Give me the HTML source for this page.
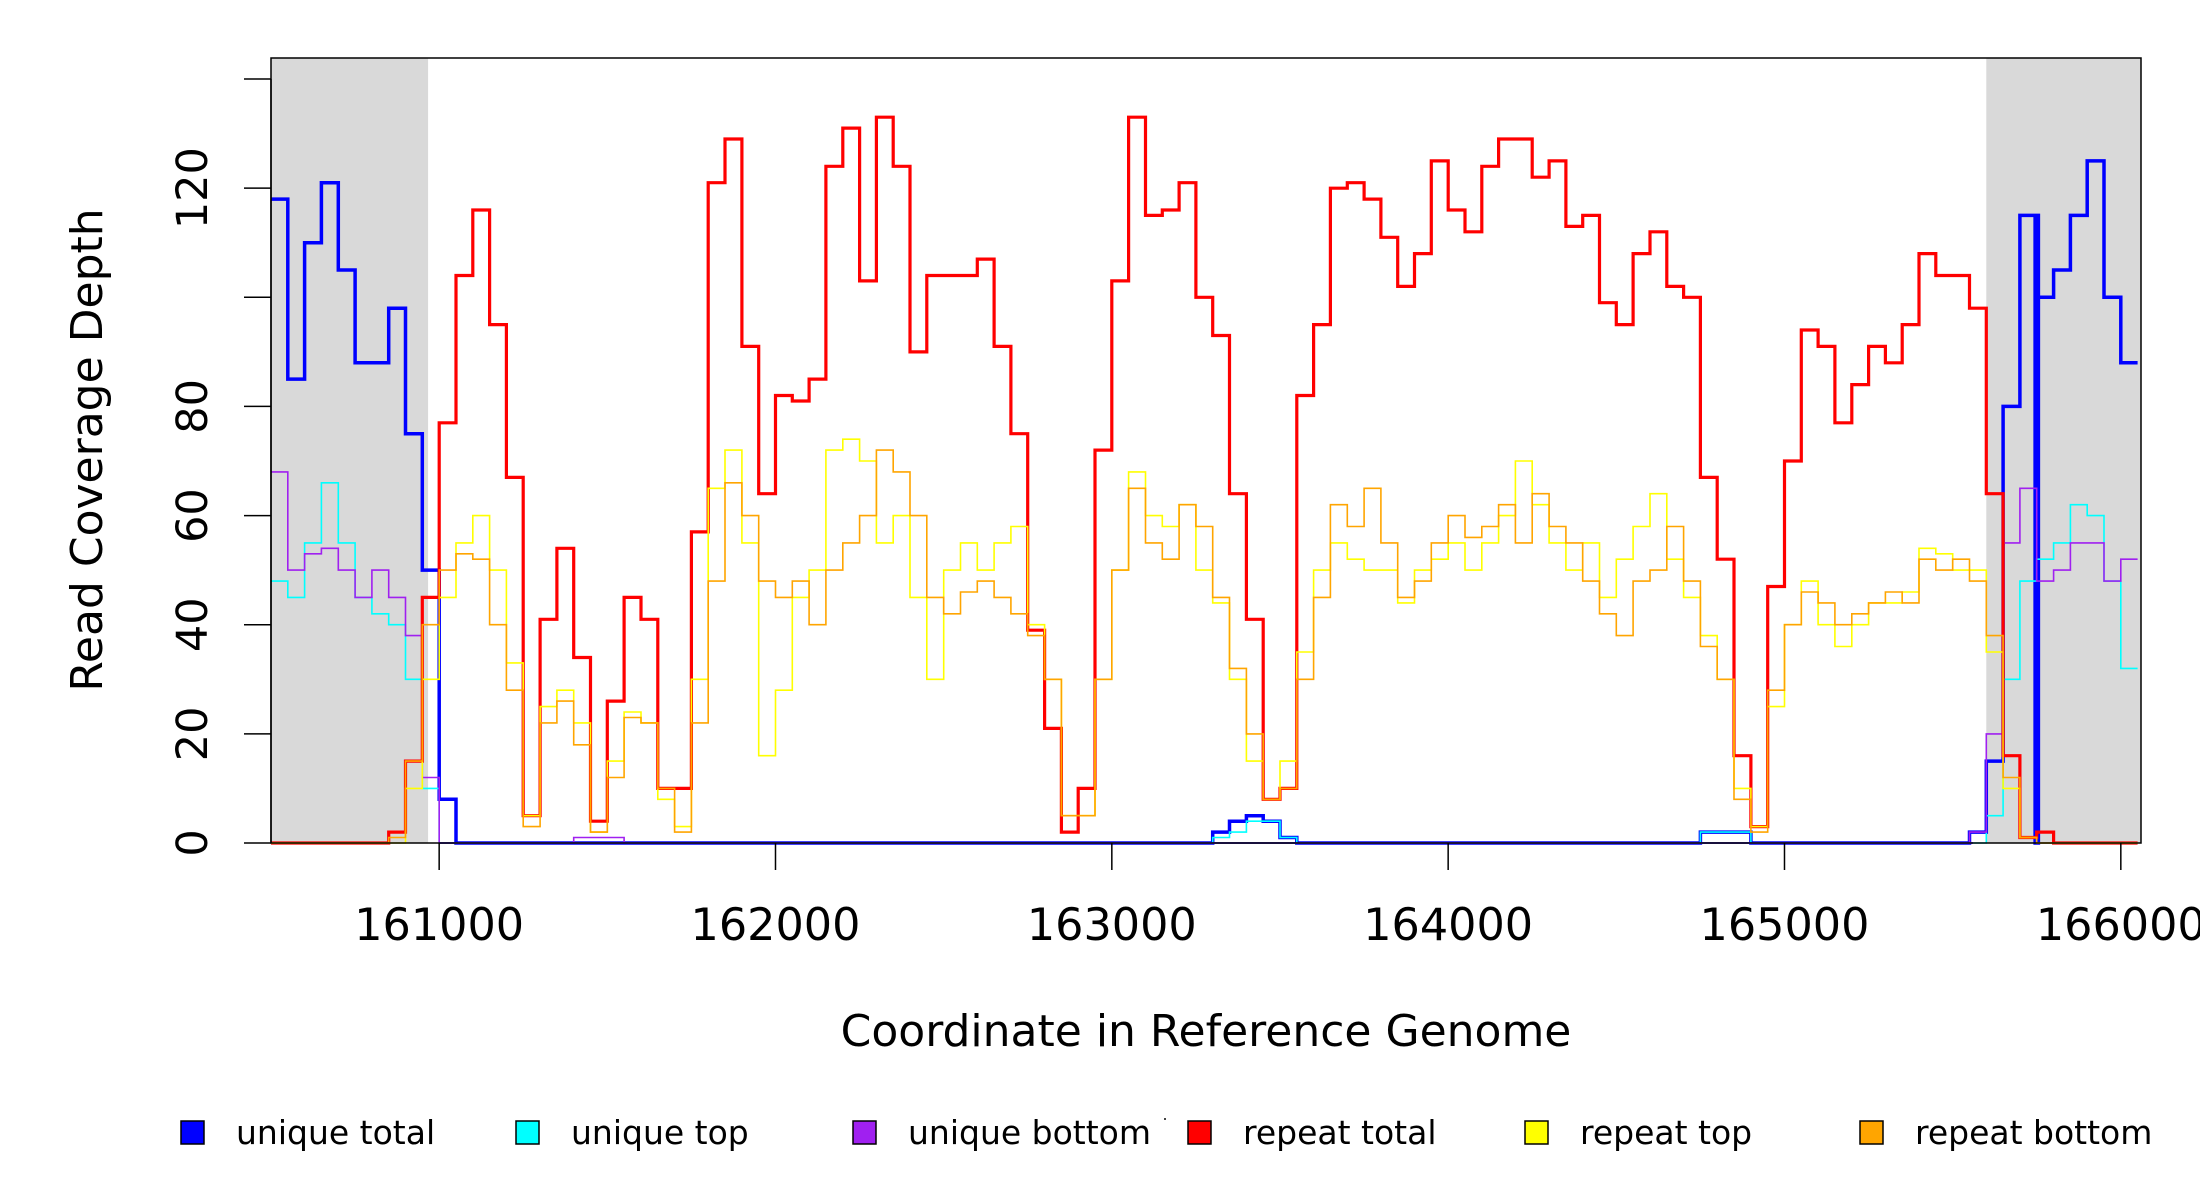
<!DOCTYPE html>
<html><head><meta charset="utf-8"><style>
html,body{margin:0;padding:0;background:#fff;}
svg{display:block;font-family:"DejaVu Sans","Liberation Sans",sans-serif;}
</style></head><body>
<svg id="chart" width="2200" height="1200" viewBox="0 0 2200 1200" xmlns="http://www.w3.org/2000/svg">
<g id="shade"></g>
<g id="series"></g>
<rect x="271" y="58" width="1870" height="785" fill="none" stroke="#000" stroke-width="1.5"/>
<g id="yaxis"></g>
<g id="xaxis"></g>
<text transform="translate(102,450) rotate(-90)" text-anchor="middle" font-size="44">Read Coverage Depth</text>
<text x="1206" y="1046" text-anchor="middle" font-size="44">Coordinate in Reference Genome</text>
<g id="legend"></g>
<rect x="1164" y="1118" width="2" height="2" fill="#444"/>
</svg>
<script>
const binStart = 160500;
const binWidth = 50;
const xTicks = [161000,162000,163000,164000,165000,166000];
const yTicks = [0,20,40,60,80,100,120,140];
const yTickLabels = ["0","20","40","60","80","","120",""];
const shadedRanges = [[160500,160967],[165600,166060]];
const seriesNames = ["unique total","unique top","unique bottom","repeat total","repeat top","repeat bottom"];
const seriesColors = ["#0000ff","#00ffff","#a020f0","#ff0000","#ffff00","#ffa500"];
const uniqueTotal = [118,85,110,121,105,88,88,98,75,50, 8,0,0,0,0,0,0,0,0,0,
 0,0,0,0,0,0,0,0,0,0, 0,0,0,0,0,0,0,0,0,0, 0,0,0,0,0,0,0,0,0,0,
 0,0,0,0,0,0,2,4,5,4, 1,0,0,0,0,0,0,0,0,0, 0,0,0,0,0,0,0,0,0,0,
 0,0,0,0,0,2,2,2,0,0, 0,0,0,0,0,0,0,0,0,0, 0,2,15,80,115,100,105,115,125,100, 88];
const uniqueTop = [48,45,55,66,55,45,42,40,30,10, 0,0,0,0,0,0,0,0,0,0,
 0,0,0,0,0,0,0,0,0,0, 0,0,0,0,0,0,0,0,0,0, 0,0,0,0,0,0,0,0,0,0,
 0,0,0,0,0,0,1,2,4,4, 1,0,0,0,0,0,0,0,0,0, 0,0,0,0,0,0,0,0,0,0,
 0,0,0,0,0,2,2,2,0,0, 0,0,0,0,0,0,0,0,0,0, 0,0,5,30,48,52,55,62,60,48, 32];
const uniqueBottom = [68,50,53,54,50,45,50,45,38,12, 0,0,0,0,0,0,0,0,1,1,
 1,0,0,0,0,0,0,0,0,0, 0,0,0,0,0,0,0,0,0,0, 0,0,0,0,0,0,0,0,0,0,
 0,0,0,0,0,0,0,0,0,0, 0,0,0,0,0,0,0,0,0,0, 0,0,0,0,0,0,0,0,0,0,
 0,0,0,0,0,0,0,0,0,0, 0,0,0,0,0,0,0,0,0,0, 0,2,20,55,65,48,50,55,55,48, 52];
const repeatTotal = [0,0,0,0,0,0,0,2,15,45, 77,104,116,95,67,5,41,54,34,4,
 26,45,41,10,10,57,121,129,91,64, 82,81,85,124,131,103,133,124,90,104,
 104,104,107,91,75,39,21,2,10,72, 103,133,115,116,121,100,93,64,41,8,
 10,82,95,120,121,118,111,102,108,125, 116,112,124,129,129,122,125,113,115,99,
 95,108,112,102,100,67,52,16,3,47, 70,94,91,77,84,91,88,95,108,104,
 104,98,64,16,1,2,0,0,0,0, 0];
const repeatTop = [0,0,0,0,0,0,0,0,10,30, 45,55,60,50,33,5,25,28,22,2,
 15,24,22,8,3,30,65,72,55,16, 28,45,50,72,74,70,55,60,45,30,
 50,55,50,55,58,40,30,5,5,30, 50,68,60,58,62,50,44,30,15,8,
 15,35,50,55,52,50,50,44,50,52, 55,50,55,60,70,62,55,50,55,45,
 52,58,64,52,45,38,30,10,3,25, 40,48,40,36,40,44,44,46,54,53,
 50,50,35,10,1,0,0,0,0,0, 0];
const repeatBottom = [0,0,0,0,0,0,0,1,15,40, 50,53,52,40,28,3,22,26,18,2,
 12,23,22,10,2,22,48,66,60,48, 45,48,40,50,55,60,72,68,60,45,
 42,46,48,45,42,38,30,5,5,30, 50,65,55,52,62,58,45,32,20,8,
 10,30,45,62,58,65,55,45,48,55, 60,56,58,62,55,64,58,55,48,42,
 38,48,50,58,48,36,30,8,2,28, 40,46,44,40,42,44,46,44,52,50,
 52,48,38,12,1,0,0,0,0,0, 0];
const blueDipCoord = [165745, 165755];

const NS = "http://www.w3.org/2000/svg";
const X0 = 271, X1 = 2141, Y0 = 843, YTOP = 58;
const xMin = 160500, xMax = 166060, yMax = 143.85;
function xs(c){ return X0 + (Math.min(c,xMax) - xMin) / (xMax - xMin) * (X1 - X0); }
function ys(v){ return Y0 - v / yMax * (Y0 - YTOP); }
function mk(tag, attrs, parent){
  const e = document.createElementNS(NS, tag);
  for (const k in attrs) e.setAttribute(k, attrs[k]);
  parent.appendChild(e);
  return e;
}
const shade = document.getElementById('shade');
shadedRanges.forEach((r, i) => {
  const el = mk('rect', {x: xs(r[0]), y: YTOP, width: xs(r[1]) - xs(r[0]), height: Y0 - YTOP, fill: '#d9d9d9'}, shade);
  
  
});
const allSeries = [uniqueTotal, uniqueTop, uniqueBottom, repeatTotal, repeatTop, repeatBottom];
const widths = [3.5, 1.6, 1.6, 3.2, 1.6, 1.6];
const seriesG = document.getElementById('series');
allSeries.forEach((vals, s) => {
  let d = '';
  vals.forEach((v, i) => {
    const a = binStart + i * binWidth, b = a + binWidth;
    if (i === 0) d += 'M' + xs(a).toFixed(1) + ' ' + ys(v).toFixed(1);
    else d += ' V' + ys(v).toFixed(1);
    if (s === 0 && a <= blueDipCoord[0] && b > blueDipCoord[0]) {
      d += ' H' + xs(blueDipCoord[0]).toFixed(1) + ' V' + ys(0).toFixed(1) + ' H' + xs(blueDipCoord[1]).toFixed(1) + ' V' + ys(v).toFixed(1);
    }
    d += ' H' + xs(b).toFixed(1);
  });
  const p = mk('path', {d: d, fill: 'none', stroke: seriesColors[s], 'stroke-width': widths[s], 'stroke-linejoin': 'miter'}, seriesG);
  
  
});
const base = mk('line', {x1: xs(161000), x2: xs(165560), y1: ys(0), y2: ys(0), stroke: '#6040f0', 'stroke-width': 2}, seriesG);


const yax = document.getElementById('yaxis');
mk('line', {x1: 271, x2: 271, y1: ys(0), y2: ys(140), stroke: '#000', 'stroke-width': 1.5}, yax);
yTicks.forEach((t, i) => {
  const tk = mk('line', {x1: 244, x2: 271, y1: ys(t), y2: ys(t), stroke: '#000', 'stroke-width': 1.5}, yax);
  
  
  if (yTickLabels[i]) {
    const tx = mk('text', {transform: 'translate(207,' + ys(t) + ') rotate(-90)', 'text-anchor': 'middle', 'font-size': 43}, yax);
    tx.textContent = yTickLabels[i];
    
    
  }
});
const xax = document.getElementById('xaxis');
xTicks.forEach(t => {
  const tk = mk('line', {x1: xs(t), x2: xs(t), y1: 843, y2: 870, stroke: '#000', 'stroke-width': 1.5}, xax);
  
  
  const tx = mk('text', {x: xs(t), y: 940, 'text-anchor': 'middle', 'font-size': 44.5}, xax);
  tx.textContent = String(t);
  
  
});
const legendX = [181, 516, 853, 1188, 1525, 1860];
const lg = document.getElementById('legend');
seriesNames.forEach((n, i) => {
  const g = mk('g', {}, lg);
  
  
  mk('rect', {x: legendX[i], y: 1121, width: 23, height: 23, fill: seriesColors[i], stroke: '#000', 'stroke-width': 1.5}, g);
  const tx = mk('text', {x: legendX[i] + 55, y: 1144, 'font-size': 33}, g);
  tx.textContent = n;
});
</script>
</body></html>
